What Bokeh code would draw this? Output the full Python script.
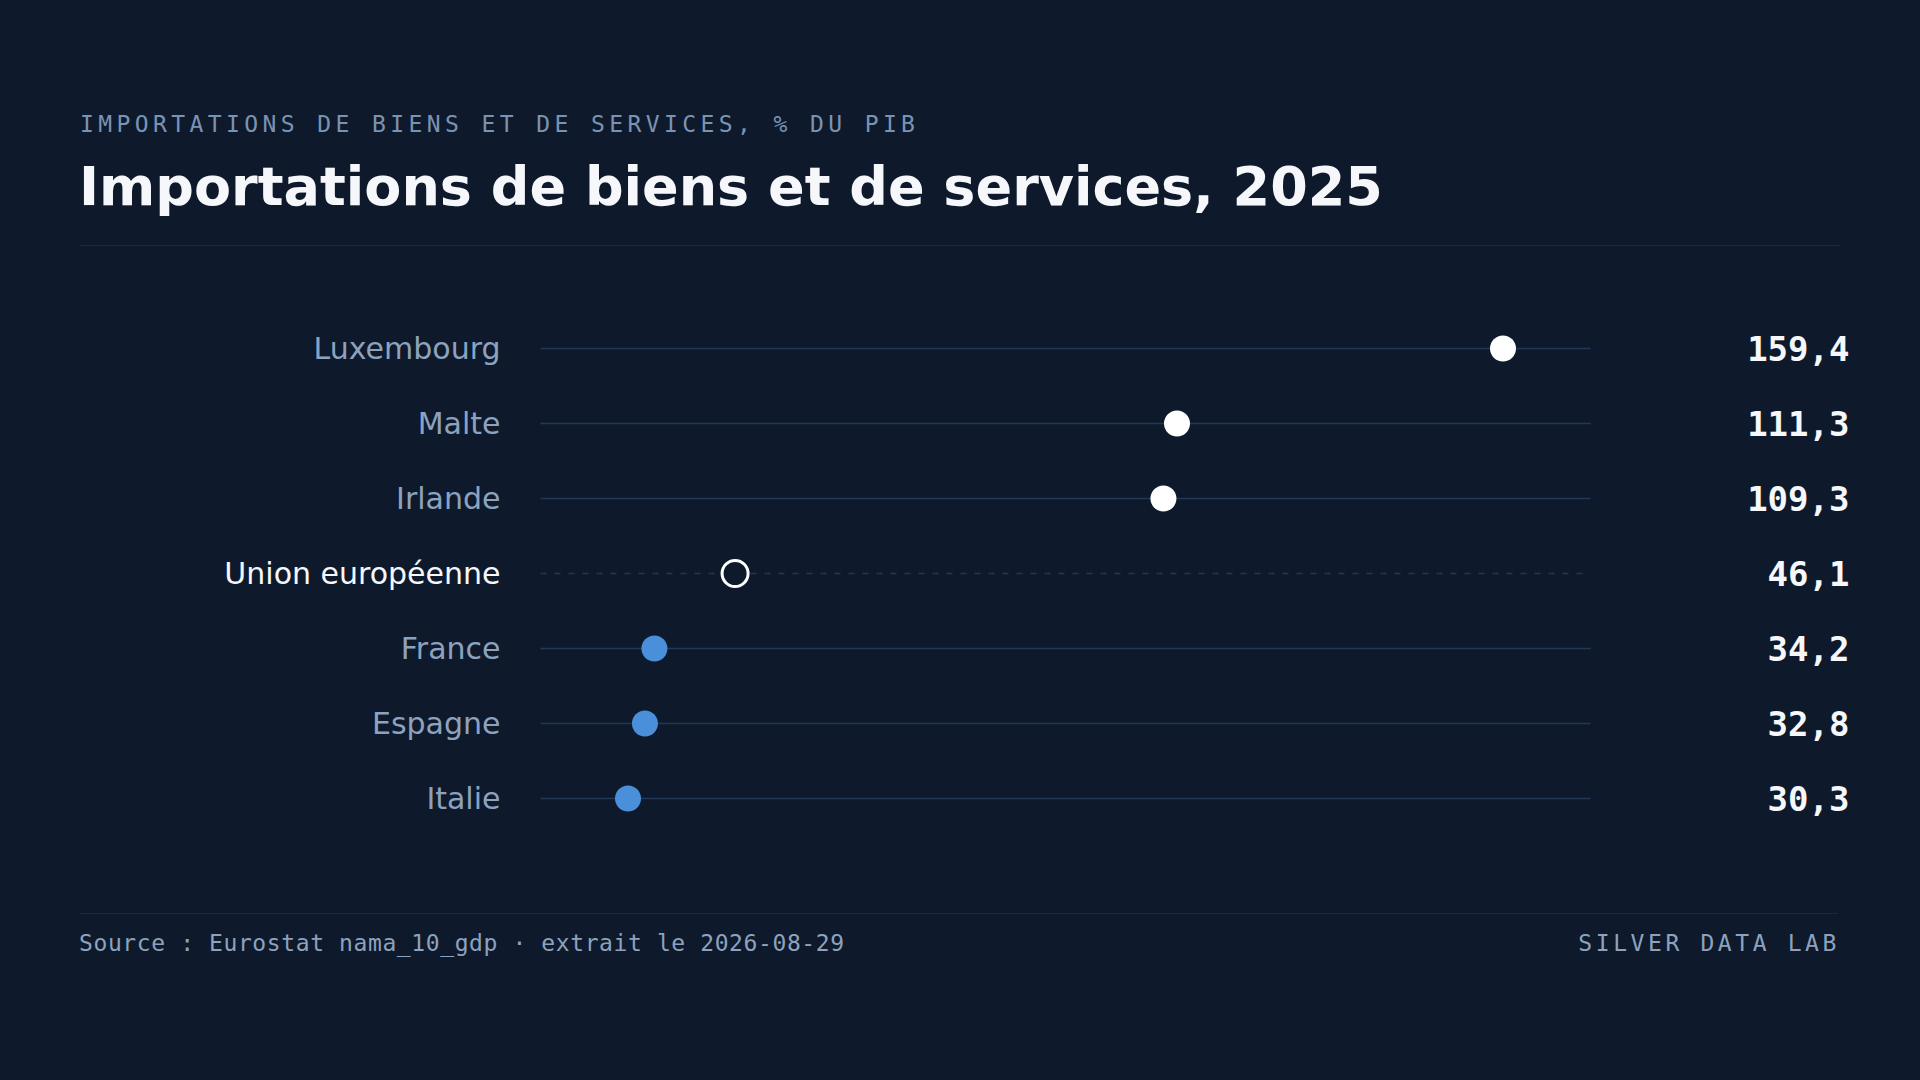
import numpy as np
from bokeh.plotting import figure
from bokeh.models import Div, Range1d
from bokeh.layouts import column
from bokeh.core.properties import value
from bokeh.embed import file_html
from bokeh.resources import INLINE

countries = ["Luxembourg", "Malte", "Irlande", "Union européenne",
             "France", "Espagne", "Italie"]
imports_pct = [159.4, 111.3, 109.3, 46.1, 34.2, 32.8, 30.3]
reference = "Union européenne"

kicker = "IMPORTATIONS DE BIENS ET DE SERVICES, % DU PIB"
title = "Importations de biens et de services, 2025"
source = "Source : Eurostat nama_10_gdp · extrait le 2026-08-29"
brand = "SILVER DATA LAB"

BG = "#0e1a2b"
RULE = "#1a2a3e"
TRACK = "#223858"
BLUE = "#4a8fd9"
MUTED = "#8da2be"
WHITE = "#f5f7fa"

W = 1904
HEAD_H = 250
PLOT_H = 662
FOOT_H = 160

# x scale: track spans min/max with 10% padding, drawn between two pixel columns
vals = np.array(imports_pct)
span = vals.max() - vals.min()
lo, hi = vals.min() - 0.1 * span, vals.max() + 0.1 * span
track_left, track_right = 540, 1590
scale = (track_right - track_left) / (hi - lo)

n = len(countries)
ypos = np.arange(n)[::-1]
row_gap = 75
top_row = 98

p = figure(width=W, height=PLOT_H, output_backend="svg", toolbar_location=None,
           x_range=Range1d(lo - track_left / scale, hi + (W - track_right) / scale),
           y_range=Range1d(-(PLOT_H - top_row - (n - 1) * row_gap) / row_gap,
                           (n - 1) + top_row / row_gap),
           x_axis_location=None, y_axis_location=None, min_border=0)
p.background_fill_color = BG
p.border_fill_color = BG
p.outline_line_color = None
p.grid.visible = False

is_ref = np.array([c == reference for c in countries])
ref_val = vals[is_ref][0]
y_solid = ypos[~is_ref]
y_ref = ypos[is_ref]

p.segment(x0=lo, x1=hi, y0=y_solid, y1=y_solid, line_color=TRACK, line_width=1.5)
p.segment(x0=lo, x1=hi, y0=y_ref, y1=y_ref, line_color=TRACK, line_width=1.5,
          line_dash="6 8")

others = ~is_ref
dot_colors = ["#ffffff" if v > ref_val else BLUE for v in vals[others]]
p.scatter(vals[others], ypos[others], size=26, fill_color=dot_colors, line_color=None)
p.scatter(vals[is_ref], y_ref, size=26, fill_color=BG, line_color="#ffffff", line_width=3)

label_colors = [WHITE if r else MUTED for r in is_ref]
p.text(x=[lo - 40 / scale] * n, y=ypos, text=countries, text_align="right",
       text_baseline="middle", text_font=value("DejaVu Sans"), text_font_size="30px",
       text_color=label_colors)

labels = [f"{v:.1f}".replace(".", ",") for v in imports_pct]
p.text(x=[hi + 259 / scale] * n, y=ypos, text=labels, text_align="right",
       text_baseline="middle", text_font=value("DejaVu Sans Mono"), text_font_size="34px",
       text_font_style="bold", text_color=WHITE)

head = Div(width=W, height=HEAD_H, margin=0, text=f"""
<div style="position:relative;width:{W}px;height:{HEAD_H}px;background:{BG};">
  <div style="position:absolute;left:80px;top:113px;font-family:'DejaVu Sans Mono';
       font-size:23px;line-height:23px;letter-spacing:4.4px;color:#7b93b3;
       white-space:nowrap;">{kicker}</div>
  <div style="position:absolute;left:79px;top:160px;font-family:'DejaVu Sans';
       font-weight:bold;font-size:54px;line-height:54px;color:{WHITE};
       white-space:nowrap;">{title}</div>
  <div style="position:absolute;left:80px;top:245px;width:1760px;height:1px;
       background:{RULE};"></div>
</div>""")

foot = Div(width=W, height=FOOT_H, margin=0, text=f"""
<div style="position:relative;width:{W}px;height:{FOOT_H}px;background:{BG};">
  <div style="position:absolute;left:80px;top:1px;width:1758px;height:1px;
       background:{RULE};"></div>
  <div style="position:absolute;left:79px;top:20px;font-family:'DejaVu Sans Mono';
       font-size:23px;line-height:23px;letter-spacing:0.6px;color:{MUTED};
       white-space:nowrap;">{source}</div>
  <div style="position:absolute;right:64px;top:20px;font-family:'DejaVu Sans Mono';
       font-size:23px;line-height:23px;letter-spacing:3.6px;color:{MUTED};
       white-space:nowrap;">{brand}</div>
</div>""")

layout = column(head, p, foot, spacing=0)

html = file_html(layout, INLINE, title=title)
html = html.replace("</head>", f"<style>html,body{{background:{BG};}}</style></head>")
open("out.html", "w").write(html)
